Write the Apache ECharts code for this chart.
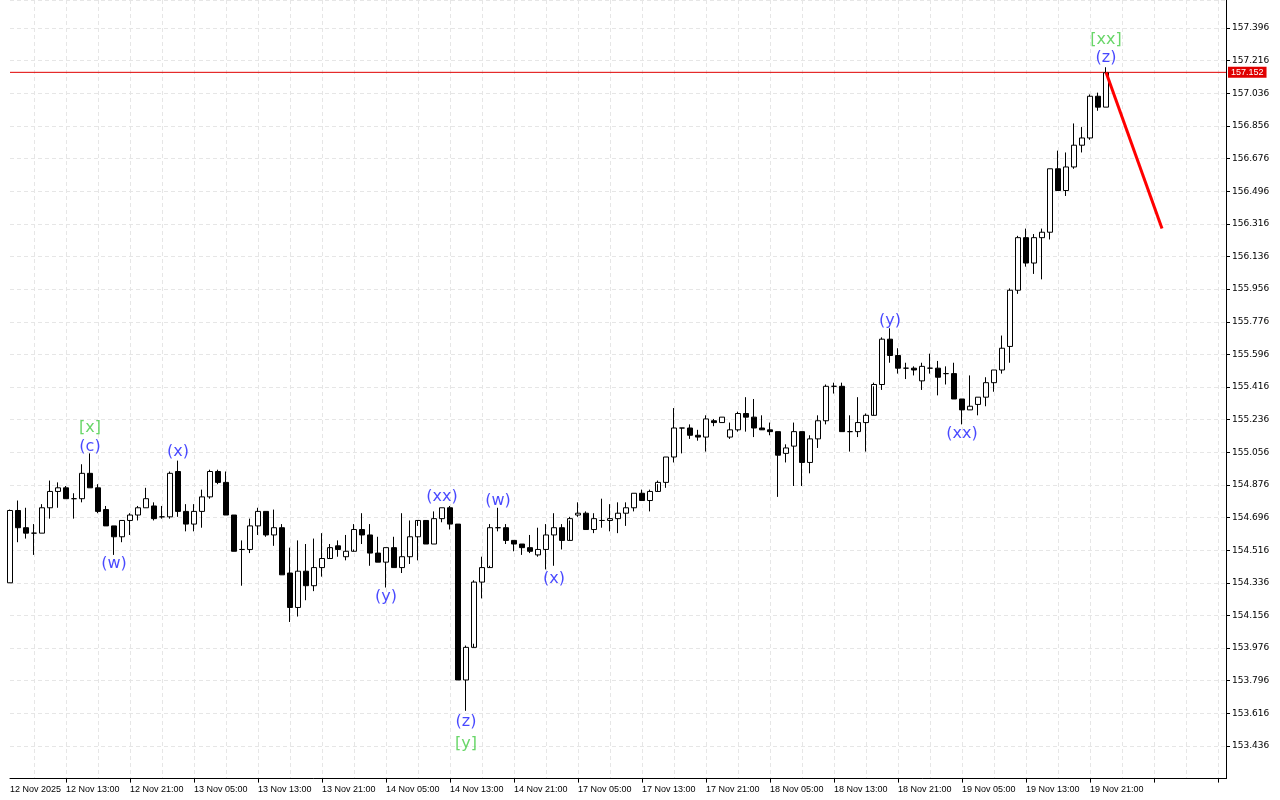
<!DOCTYPE html>
<html><head><meta charset="utf-8">
<script src="https://cdn.jsdelivr.net/npm/echarts@6/dist/echarts.min.js"></script>
<style>html,body{margin:0;padding:0;background:#fff}#c{width:1280px;height:800px}</style>
</head><body><div id="c"></div>
<script>
// OHLC per hourly candle
const opens = [154.336,154.735,154.64,154.61,154.61,154.75,154.84,154.86,154.80,154.80,154.94,154.86,154.74,154.65,154.59,154.68,154.71,154.75,154.76,154.70,154.70,154.95,154.73,154.66,154.73,154.81,154.95,154.89,154.71,
154.52,154.52,154.65,154.73,154.60,154.64,154.39,154.20,154.40,154.32,154.42,154.47,154.54,154.48,154.51,154.63,154.60,154.50,154.45,154.53,154.42,154.48,154.59,154.68,154.55,154.69,154.75,
154.66,153.80,153.98,154.34,154.42,154.64,154.64,154.57,154.55,154.53,154.49,154.52,154.60,154.64,154.57,154.71,154.72,154.63,154.68,154.68,154.69,154.72,154.75,154.83,154.79,154.84,
154.89,155.03,155.19,155.19,155.15,155.14,155.23,155.22,155.14,155.18,155.27,155.25,155.19,155.18,155.17,155.05,155.09,155.17,155.00,155.13,155.23,155.42,155.42,155.17,155.17,155.22,155.26,
155.43,155.68,155.59,155.52,155.52,155.45,155.52,155.52,155.49,155.49,155.35,155.29,155.32,155.36,155.44,155.51,
155.64,155.95,156.24,156.10,156.24,156.27,156.62,156.50,156.63,156.75,156.79,157.02,156.96];
const closes = [154.735,154.64,154.61,154.61,154.75,154.84,154.86,154.80,154.80,154.94,154.86,154.73,154.65,154.59,154.68,154.71,154.75,154.80,154.69,154.70,154.94,154.73,154.66,154.73,154.81,154.95,154.89,154.71,154.51,
154.52,154.65,154.73,154.60,154.64,154.38,154.20,154.40,154.32,154.42,154.47,154.53,154.52,154.51,154.63,154.60,154.50,154.45,154.53,154.42,154.48,154.59,154.68,154.55,154.69,154.75,154.66,
153.80,153.98,154.34,154.42,154.64,154.64,154.57,154.55,154.53,154.51,154.52,154.60,154.64,154.57,154.69,154.72,154.63,154.69,154.68,154.69,154.72,154.75,154.83,154.79,154.84,154.89,
155.03,155.19,155.19,155.15,155.14,155.24,155.22,155.25,155.18,155.27,155.25,155.19,155.18,155.17,155.04,155.08,155.17,155.00,155.13,155.23,155.42,155.42,155.17,155.17,155.22,155.26,155.43,
155.68,155.59,155.52,155.52,155.51,155.53,155.52,155.47,155.49,155.35,155.29,155.31,155.36,155.44,155.51,155.63,
155.95,156.24,156.10,156.24,156.27,156.62,156.50,156.63,156.75,156.79,157.02,156.96,157.15];
const highs = [154.74,154.79,154.75,154.66,154.77,154.90,154.89,154.87,154.83,154.99,155.05,154.88,154.76,154.65,154.68,154.72,154.76,154.86,154.78,154.76,154.95,155.01,154.77,154.77,154.85,154.96,154.96,154.95,154.71,
154.57,154.69,154.75,154.73,154.74,154.66,154.53,154.57,154.55,154.58,154.61,154.55,154.57,154.60,154.66,154.72,154.66,154.59,154.53,154.59,154.72,154.68,154.65,154.67,154.73,154.75,154.76,
154.66,153.99,154.35,154.48,154.66,154.75,154.66,154.57,154.55,154.60,154.64,154.66,154.72,154.66,154.70,154.78,154.73,154.72,154.80,154.77,154.78,154.78,154.83,154.85,154.85,154.90,
155.03,155.30,155.19,155.21,155.18,155.26,155.24,155.25,155.22,155.28,155.36,155.35,155.26,155.22,155.17,155.10,155.22,155.17,155.15,155.26,155.43,155.44,155.44,155.26,155.36,155.27,155.44,
155.69,155.74,155.63,155.55,155.53,155.55,155.60,155.56,155.53,155.55,155.35,155.48,155.36,155.47,155.51,155.70,
155.96,156.25,156.29,156.26,156.29,156.62,156.72,156.71,156.87,156.85,157.03,157.04,157.18];
const lows = [154.335,154.56,154.58,154.49,154.61,154.69,154.75,154.80,154.69,154.78,154.86,154.72,154.65,154.49,154.56,154.60,154.68,154.75,154.68,154.69,154.69,154.70,154.62,154.62,154.64,154.80,154.88,154.71,154.51,
154.32,154.50,154.60,154.59,154.54,154.38,154.12,154.15,154.24,154.29,154.37,154.53,154.48,154.46,154.52,154.55,154.43,154.45,154.31,154.42,154.39,154.44,154.46,154.55,154.55,154.67,154.63,
153.80,153.63,154.00,154.25,154.43,154.62,154.55,154.51,154.49,154.50,154.48,154.41,154.43,154.52,154.68,154.70,154.63,154.61,154.64,154.62,154.61,154.65,154.73,154.79,154.73,154.88,
154.86,155.00,155.05,155.13,155.12,155.06,155.20,155.22,155.13,155.17,155.17,155.14,155.20,155.15,154.81,155.00,154.87,154.87,154.94,155.08,155.21,155.38,155.17,155.06,155.14,155.06,155.42,
155.40,155.55,155.49,155.46,155.48,155.40,155.49,155.37,155.43,155.35,155.21,155.29,155.26,155.31,155.39,155.49,
155.55,155.93,156.08,156.04,156.01,156.23,156.50,156.47,156.62,156.71,156.78,156.94,156.96];
const tickLabels = ["12 Nov 2025","12 Nov 13:00","12 Nov 21:00","13 Nov 05:00","13 Nov 13:00","13 Nov 21:00","14 Nov 05:00","14 Nov 13:00","14 Nov 21:00","17 Nov 05:00","17 Nov 13:00","17 Nov 21:00","18 Nov 05:00","18 Nov 13:00","18 Nov 21:00","19 Nov 05:00","19 Nov 13:00","19 Nov 21:00"];
const waveIdx   = [10,10,13,21,47,54,61,68,57,57,110,119,137,137];
const wavePrice = [155.19,155.086,154.44,155.06,154.26,154.81,154.79,154.36,153.57,153.45,155.78,155.16,157.23,157.33];
const waveText  = ["[x]","(c)","(w)","(x)","(y)","(xx)","(w)","(x)","(z)","[y]","(y)","(xx)","(z)","[xx]"];
const waveGreen = [1,0,0,0,0,0,0,0,0,1,0,0,0,1];
const lastPrice = 157.152;
const projIdx = [137,144];
const projPrice = [157.152,156.29];

const BASE = 153.256, N = 153;
const cats = Array.from({length:N},(_,i)=>i);
const candle = opens.map((o,i)=>[o-BASE,closes[i]-BASE,lows[i]-BASE,highs[i]-BASE]);
const labels = waveIdx.map((x,i)=>({value:[x,wavePrice[i]-BASE],label:{formatter:waveText[i],color:waveGreen[i]?'#44cc44':'#1a1aff'}}));
const proj = Array(N).fill('-'); projIdx.forEach((x,i)=>proj[x]=projPrice[i]-BASE);
const hline = Array(N).fill(lastPrice-BASE);

const chart = echarts.init(document.getElementById('c'));
chart.setOption({
  animation:false,
  grid:{left:10,right:54,top:-3,bottom:21.4,show:false},
  xAxis:{type:'category',data:cats,boundaryGap:false,
    axisLine:{lineStyle:{color:'#000'}},
    axisTick:{interval:(i)=>i%8===7,length:4,lineStyle:{color:'#000'}},
    axisLabel:{interval:(i)=>i===0||i%8===7,showMinLabel:true,hideOverlap:false,align:'left',margin:6,fontSize:9,color:'#000',fontFamily:'Liberation Sans',
      formatter:(v)=>{const k=+v; return k===0?tickLabels[0]:tickLabels[(k+1)/8];}},
    splitLine:{show:true,interval:(i)=>i%4===3,lineStyle:{color:'#e6e6e6',type:[4,3]}}},
  yAxis:{type:'value',position:'right',min:0,max:4.295,interval:0.18,
    axisLine:{show:true,lineStyle:{color:'#000'}},axisTick:{show:true,length:4,lineStyle:{color:'#000'}},
    axisLabel:{fontSize:9,color:'#000',margin:6,fontFamily:'DejaVu Sans',showMinLabel:false,showMaxLabel:false,formatter:(v)=>(v+BASE).toFixed(3)},
    splitLine:{show:true,lineStyle:{color:'#e6e6e6',type:[4,3]}}},
  series:[
    {type:'line',data:hline,symbol:'none',silent:true,lineStyle:{color:'#e00000',width:1},z:1,
      endLabel:{show:true,formatter:lastPrice.toFixed(3),backgroundColor:'#e00000',color:'#fff',fontSize:9,padding:[1,3],distance:2}},
    {type:'candlestick',data:candle,barWidth:5,z:3,
      itemStyle:{color:'#fff',color0:'#000',borderColor:'#000',borderColor0:'#000',borderWidth:1}},
    {type:'line',data:proj,connectNulls:true,symbol:'none',z:4,lineStyle:{color:'#ff0000',width:3}},
    {type:'scatter',data:labels,symbolSize:0,z:5,label:{show:true,position:'inside',fontSize:16,fontFamily:'DejaVu Sans'}}
  ]
});
</script></body></html>
